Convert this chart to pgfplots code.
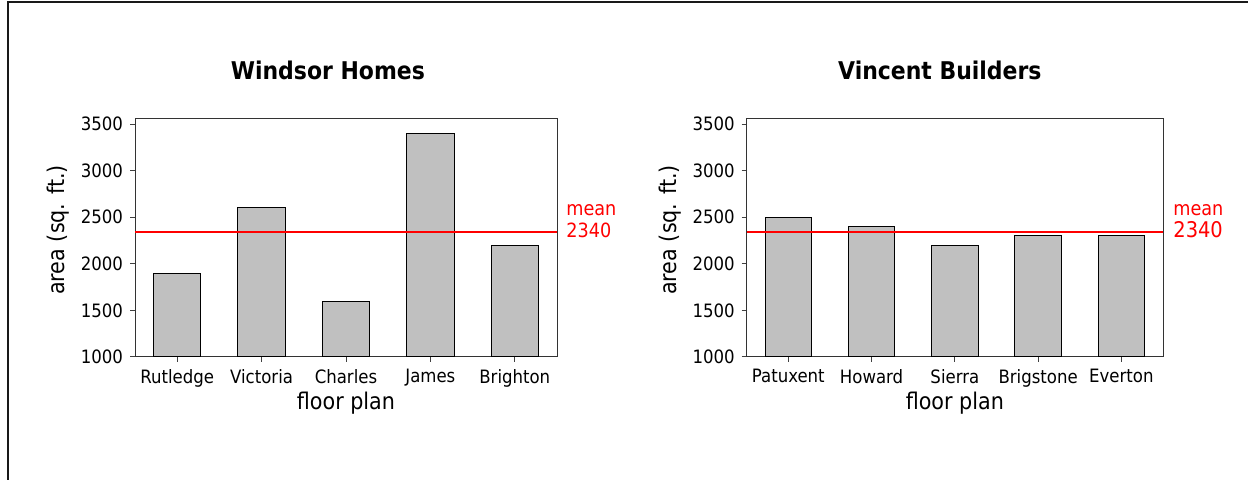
\documentclass[border=0pt]{standalone}
\usepackage{fontspec}
\setmainfont{DejaVu Sans Condensed}
\usepackage{pgfplots}
\pgfplotsset{compat=1.18}
\definecolor{barGray}{RGB}{192,192,192}
\pgfplotsset{
  myaxis/.style={
    scale only axis, height=119pt,
    xmin=-0.5, xmax=4.5, ymin=1000, ymax=3555,
    xtick={0,1,2,3,4}, ytick={1000,1500,2000,2500,3000,3500},
    tick align=outside, tick pos=left,
    major tick length=2.5pt,
    tick style={black!75, line width=0.5pt},
    axis line style={black!80, line width=0.5pt},
    ticklabel style={font=\fontsize{9.2}{10}\selectfont},
    /pgf/number format/assume math mode=true,
    /pgf/number format/1000 sep={},
    label style={font=\fontsize{11.5}{12}\selectfont},
    xlabel={floor plan}, ylabel={area (sq. ft.)},
    xlabel style={at={(axis description cs:0.5,-0.2227)}, anchor=base},
    every axis title shift=0pt,
    title style={anchor=base, font=\fontsize{12.2}{13}\selectfont\bfseries},
    clip mode=individual,
  }
}
\begin{document}
\begin{tikzpicture}
\path[use as bounding box] (0,0) rectangle (624pt,240pt);
\draw[line width=1pt, black!90] (3.9pt,0) -- (3.9pt,239.1pt) -- (624pt,239.1pt);
\begin{axis}[myaxis, at={(67.5pt,61.5pt)}, anchor=south west, width=211pt,
  title={Windsor Homes},
  title style={at={(axis description cs:0.457,1.164)}},
  ylabel style={at={(axis description cs:-0.166,0.534)}, anchor=base},
  xticklabels={Rutledge,Victoria,Charles,James,Brighton}]
\addplot[ybar, bar width=0.56, fill=barGray, draw=black, line width=0.5pt]
  coordinates {(0,1900) (1,2600) (2,1600) (3,3400) (4,2200)};
\addplot[red, line width=1pt, no marks] coordinates {(-0.5,2340) (4.5,2340)};
\node[red, anchor=base west, inner sep=0pt, font=\fontsize{9.8}{10}\selectfont, xshift=4.5pt, yshift=8.3pt] at (axis cs:4.5,2340) {mean};
\node[red, anchor=base west, inner sep=0pt, font=\fontsize{9.8}{10}\selectfont, xshift=4.5pt, yshift=-2.7pt] at (axis cs:4.5,2340) {2340};
\end{axis}
\begin{axis}[myaxis, at={(373.35pt,61.5pt)}, anchor=south west, width=208.15pt,
  title={Vincent Builders},
  title style={at={(axis description cs:0.464,1.164)}},
  ylabel style={at={(axis description cs:-0.168,0.534)}, anchor=base},
  xticklabels={Patuxent,Howard,Sierra,Brigstone,Everton}]
\addplot[ybar, bar width=0.56, fill=barGray, draw=black, line width=0.5pt]
  coordinates {(0,2500) (1,2400) (2,2200) (3,2300) (4,2300)};
\addplot[red, line width=1pt, no marks] coordinates {(-0.5,2340) (4.5,2340)};
\node[red, anchor=base west, inner sep=0pt, font=\fontsize{9.8}{10}\selectfont, xshift=5pt, yshift=8.3pt] at (axis cs:4.5,2340) {mean};
\node[red, anchor=base west, inner sep=0pt, font=\fontsize{10.8}{11}\selectfont, xshift=5pt, yshift=-2.7pt] at (axis cs:4.5,2340) {2340};
\end{axis}
\end{tikzpicture}
\end{document}
